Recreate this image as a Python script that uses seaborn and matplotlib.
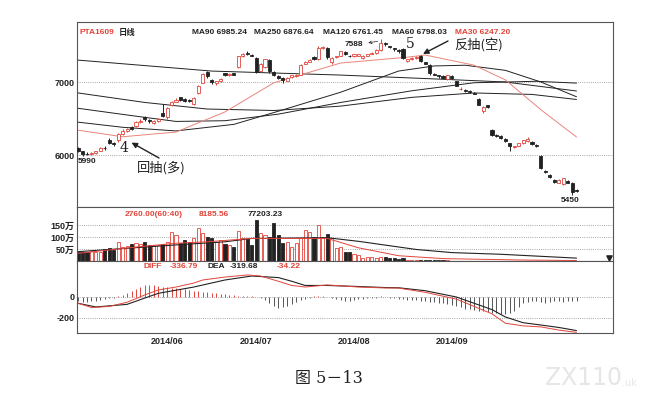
import numpy as np
import matplotlib
matplotlib.use("Agg")
import matplotlib.pyplot as plt
import seaborn as sns

# daily candles, PTA1609
opens = [6090, 6050, 6020, 6010, 6030, 6060, 6100, 6210, 6160, 6200,
         6290, 6330, 6380, 6400, 6450, 6520, 6480, 6440, 6460, 6580,
         6520, 6680, 6730, 6790, 6770, 6760, 6700, 6850, 6990, 7140,
         7030, 6980, 7020, 7120, 7090, 7120, 7200, 7350, 7400, 7370,
         7330, 7150, 7200, 7300, 7140, 7080, 7060, 7020, 7070, 7080,
         7100, 7250, 7280, 7340, 7310, 7460, 7470, 7270, 7340, 7360,
         7410, 7360, 7350, 7360, 7330, 7360, 7390, 7400, 7440, 7530,
         7490, 7460, 7440, 7450, 7290, 7310, 7330, 7360, 7270, 7230,
         7110, 7090, 7080, 7040, 7080, 7010, 6900, 6890, 6880, 6850,
         6770, 6600, 6680, 6340, 6280, 6260, 6220, 6160, 6110, 6130,
         6160, 6190, 6180, 6140, 5990, 5780, 5730, 5660, 5620, 5600,
         5650, 5620, 5520]
closes = [6060, 6020, 6010, 6030, 6050, 6100, 6090, 6170, 6150, 6290,
          6330, 6350, 6360, 6450, 6470, 6490, 6460, 6470, 6500, 6540,
          6650, 6720, 6760, 6760, 6740, 6740, 6780, 6950, 7110, 7080,
          7000, 7010, 7040, 7090, 7110, 7100, 7350, 7380, 7380, 7360,
          7140, 7250, 7310, 7150, 7100, 7060, 7030, 7060, 7090, 7100,
          7230, 7280, 7300, 7310, 7470, 7480, 7340, 7330, 7350, 7420,
          7380, 7350, 7380, 7380, 7360, 7380, 7400, 7440, 7540, 7520,
          7480, 7450, 7430, 7330, 7310, 7330, 7340, 7290, 7250, 7120,
          7100, 7080, 7060, 7090, 7050, 6950, 6910, 6880, 6860, 6840,
          6690, 6660, 6660, 6270, 6260, 6230, 6190, 6130, 6120, 6160,
          6200, 6220, 6150, 6120, 5820, 5770, 5700, 5630, 5660, 5680,
          5620, 5490, 5510]
highs = [6110, 6060, 6040, 6040, 6060, 6110, 6120, 6230, 6180, 6300,
         6350, 6370, 6400, 6460, 6490, 6530, 6500, 6480, 6510, 6700,
         6660, 6740, 6780, 6800, 6780, 6770, 6790, 6960, 7130, 7150,
         7040, 7020, 7050, 7130, 7120, 7130, 7360, 7400, 7420, 7380,
         7340, 7260, 7320, 7310, 7150, 7090, 7070, 7070, 7100, 7110,
         7240, 7290, 7310, 7350, 7500, 7500, 7480, 7340, 7360, 7430,
         7420, 7370, 7390, 7390, 7370, 7390, 7410, 7450, 7588, 7550,
         7500, 7470, 7450, 7460, 7320, 7340, 7350, 7370, 7280, 7240,
         7120, 7100, 7090, 7100, 7090, 7020, 6930, 6900, 6890, 6860,
         6780, 6670, 6690, 6350, 6290, 6270, 6230, 6170, 6130, 6170,
         6210, 6240, 6190, 6150, 6000, 5790, 5740, 5670, 5670, 5690,
         5660, 5630, 5530]
lows = [6040, 5990, 6000, 6000, 6020, 6050, 6070, 6150, 6120, 6180,
        6270, 6320, 6340, 6390, 6440, 6470, 6440, 6430, 6450, 6520,
        6500, 6670, 6720, 6740, 6720, 6720, 6690, 6830, 6980, 7060,
        6970, 6960, 7000, 7080, 7080, 7090, 7190, 7340, 7370, 7350,
        7120, 7140, 7190, 7130, 7080, 7040, 6980, 7010, 7060, 7070,
        7090, 7240, 7270, 7300, 7300, 7450, 7320, 7250, 7330, 7350,
        7370, 7340, 7340, 7350, 7320, 7350, 7380, 7390, 7430, 7500,
        7470, 7430, 7400, 7310, 7270, 7300, 7320, 7280, 7240, 7100,
        7090, 7060, 7050, 7030, 7040, 6940, 6890, 6870, 6850, 6830,
        6680, 6580, 6650, 6260, 6250, 6220, 6180, 6050, 6100, 6120,
        6150, 6180, 6140, 6110, 5810, 5750, 5690, 5620, 5610, 5590,
        5610, 5450, 5490]

# volume in 万
volumes = [39, 39, 39, 40, 39, 39, 50, 55, 45, 80,
           60, 62, 70, 74, 72, 80, 67, 67, 65, 70,
           80, 122, 108, 74, 88, 80, 94, 136, 115, 101,
           94, 80, 88, 70, 67, 60, 125, 94, 90, 67,
           170, 115, 108, 101, 157, 108, 74, 80, 60, 74,
           94, 129, 122, 101, 150, 101, 111, 94, 55, 60,
           39, 39, 30, 25, 14, 18, 18, 14, 18, 15,
           11, 11, 8, 14, 6, 5, 5, 5, 5, 4,
           4, 4, 3, 3, 2, 2, 2, 2, 2, 2,
           2, 2, 2, 1, 1, 1, 1, 1, 1, 1,
           1, 1, 1, 1, 1, 1, 1, 1, 1, 1,
           1, 1, 1]

macd_bars = [-40, -50, -45, -40, -35, -30, -20, -10, -5, 5,
             20, 40, 60, 80, 100, 110, 115, 110, 105, 100,
             95, 90, 85, 80, 75, 70, 60, 55, 50, 45,
             40, 35, 30, 25, 20, 15, 10, 8, 5, 5,
             3, -5, -30, -60, -90, -105, -100, -90, -70, -50,
             -30, -15, -5, 5, 8, 5, 3, -10, -20, -30,
             -40, -35, -30, -20, -15, -10, -5, -5, 5, 3,
             -5, -10, -15, -20, -25, -30, -30, -35, -40, -45,
             -50, -55, -60, -70, -80, -90, -100, -110, -115, -120,
             -130, -135, -140, -150, -155, -160, -160, -150, -130, -100,
             -60, -45, -40, -35, -50, -55, -50, -40, -35, -45,
             -40, -35, -34]

# moving averages (sampled along the lines)
ma30_idx = [0, 10, 22, 33, 44, 59, 74, 78, 89, 96, 104, 112]
ma30_val = [6340, 6250, 6315, 6590, 6990, 7260, 7340, 7370, 7230, 7030, 6620, 6247]
ma60_idx = [0, 10, 22, 35, 45, 59, 72, 80, 87, 96, 104, 112]
ma60_val = [6450, 6380, 6330, 6420, 6600, 6860, 7150, 7220, 7230, 7160, 7000, 6798]
ma90_idx = [0, 12, 22, 33, 45, 59, 75, 89, 103, 112]
ma90_val = [6640, 6540, 6460, 6470, 6560, 6720, 6880, 6990, 7010, 6985]
ma120_idx = [0, 15, 29, 44, 59, 75, 89, 102, 112]
ma120_val = [6850, 6720, 6630, 6610, 6670, 6790, 6850, 6830, 6761]
ma250_idx = [0, 30, 59, 81, 96, 112]
ma250_val = [7300, 7150, 7095, 7040, 7000, 6877]

vol_ma1_idx = [0, 14, 22, 29, 39, 50, 56, 63, 72, 82, 100, 112]
vol_ma1_val = [32, 60, 74, 80, 94, 94, 94, 55, 22, 10, 4, 2]
vol_ma2_idx = [0, 22, 33, 39, 56, 63, 76, 84, 95, 112]
vol_ma2_val = [39, 67, 80, 94, 97, 82, 48, 35, 28, 12]

diff_idx = [0, 3, 7, 11, 15, 18, 22, 26, 28, 33, 38, 41, 45, 48, 51, 56, 63, 69, 72, 78, 85, 89, 93, 96, 100, 104, 108, 112]
diff_val = [-60, -100, -90, -50, 20, 67, 95, 133, 162, 190, 210, 200, 150, 110, 95, 115, 95, 86, 85, 45, -20, -90, -160, -250, -275, -285, -315, -337]
dea_idx = [0, 4, 11, 18, 26, 33, 39, 45, 48, 51, 56, 63, 69, 72, 78, 85, 89, 93, 96, 100, 104, 108, 112]
dea_val = [-60, -95, -70, 35, 95, 162, 200, 185, 150, 110, 110, 100, 90, 88, 60, 0, -60, -120, -190, -245, -267, -290, -320]

date_pos = [20, 40, 62, 84]
date_labels = ["2014/06", "2014/07", "2014/08", "2014/09"]

RED = "#e2443a"
PINK = "#e9857b"
BLK = "#222222"
GRID = "#8a8a8a"

sns.set_theme(style="white")
plt.rcParams["font.family"] = ["Liberation Sans", "Noto Sans CJK SC", "DejaVu Sans"]

W_PX, H_PX = 663, 400


def fx(px):
    return px / W_PX


def fy(py):
    return 1 - py / H_PX


fig = plt.figure(figsize=(6.63, 4.0), dpi=100)
left = fx(77)
width = (613 - 77) / W_PX
ax = fig.add_axes([left, fy(207), width, 185 / H_PX])
axv = fig.add_axes([left, fy(261), width, 54 / H_PX], sharex=ax)
axm = fig.add_axes([left, fy(333), width, 72 / H_PX], sharex=ax)

o = np.array(opens)
c = np.array(closes)
idx = np.arange(len(c))
up = c >= o
edge = np.where(up, RED, BLK)
face = np.where(up, "white", BLK)

# candles
ax.vlines(idx, lows, highs, colors=edge, linewidth=0.7, zorder=2)
body = np.maximum(np.abs(c - o), 8)
ax.bar(idx, body, bottom=np.minimum(o, c), width=0.7, color=face,
       edgecolor=edge, linewidth=0.6, zorder=3)

for xs, ys, col in [(ma250_idx, ma250_val, BLK), (ma120_idx, ma120_val, BLK),
                    (ma90_idx, ma90_val, BLK), (ma60_idx, ma60_val, BLK),
                    (ma30_idx, ma30_val, PINK)]:
    sns.lineplot(x=xs, y=ys, ax=ax, color=col, linewidth=0.7, zorder=1)

for lvl in [7000, 6000]:
    ax.axhline(lvl, color=GRID, linestyle=(0, (1, 1.6)), linewidth=0.6, zorder=0)
ax.set_xlim(-0.25, 120.2)
ax.set_ylim(5288, 7822)
ax.set_yticks([7000, 6000])
ax.set_yticklabels(["7000", "6000"])

# volume
vcol = np.where(up, RED, BLK)
vface = np.where(up, "white", BLK)
axv.bar(idx, volumes, width=0.7, color=vface, edgecolor=vcol, linewidth=0.6)
sns.lineplot(x=vol_ma2_idx, y=vol_ma2_val, ax=axv, color=BLK, linewidth=0.8)
sns.lineplot(x=vol_ma1_idx, y=vol_ma1_val, ax=axv, color=RED, linewidth=0.7)
for lvl in [50, 100, 150]:
    axv.axhline(lvl, color=GRID, linestyle=(0, (1, 1.6)), linewidth=0.6, zorder=0)
axv.set_ylim(0, 225)
axv.set_yticks([150, 100, 50])
axv.set_yticklabels(["150万", "100万", "50万"])
axv.scatter([0.992], [0.06], marker="v", s=14, color=BLK,
            transform=axv.transAxes, clip_on=False, zorder=5)

# MACD
mb = np.array(macd_bars)
axm.vlines(idx, 0, mb, colors=np.where(mb >= 0, RED, "#555555"), linewidth=0.7)
sns.lineplot(x=dea_idx, y=dea_val, ax=axm, color=BLK, linewidth=0.8)
sns.lineplot(x=diff_idx, y=diff_val, ax=axm, color=RED, linewidth=0.7)
for lvl in [0, -200]:
    axm.axhline(lvl, color=GRID, linestyle=(0, (1, 1.6)), linewidth=0.6, zorder=0)
axm.set_ylim(-343, 343)
axm.set_yticks([0, -200])
axm.set_yticklabels(["0", "-200"])
axm.set_xticks(date_pos)
axm.set_xticklabels(date_labels)

for a in (ax, axv, axm):
    a.set_xlabel("")
    a.set_ylabel("")
    a.grid(False)
    for s in a.spines.values():
        s.set_color("#555555")
        s.set_linewidth(0.8)
    a.tick_params(axis="y", length=0, pad=1.5, labelsize=6.5, labelcolor=BLK)
    a.tick_params(axis="x", length=0, labelbottom=False)
    for t in a.get_yticklabels():
        t.set_fontweight("bold")
axm.tick_params(axis="x", labelbottom=True, labelsize=6.5, pad=3)
for t in axm.get_xticklabels():
    t.set_fontweight("bold")

# header texts
tk = dict(fontsize=6, fontweight="bold", va="center", ha="left")
fig.text(fx(79), fy(33), "PTA1609", color=RED, **tk)
fig.text(fx(119), fy(33), "日线", color=BLK, **tk)
fig.text(fx(192), fy(33), "MA90 6985.24", color=BLK, **tk)
fig.text(fx(254), fy(33), "MA250 6876.64", color=BLK, **tk)
fig.text(fx(323), fy(33), "MA120 6761.45", color=BLK, **tk)
fig.text(fx(392), fy(33), "MA60 6798.03", color=BLK, **tk)
fig.text(fx(455), fy(33), "MA30 6247.20", color=RED, **tk)

fig.text(fx(125), fy(214), "2760.00(60:40)", color=RED, **tk)
fig.text(fx(199), fy(214), "8185.56", color=RED, **tk)
fig.text(fx(248), fy(214), "77203.23", color=BLK, **tk)

fig.text(fx(143), fy(267), "DIFF", color=RED, **tk)
fig.text(fx(170), fy(267), "-336.79", color=RED, **tk)
fig.text(fx(207), fy(267), "DEA", color=BLK, **tk)
fig.text(fx(230), fy(267), "-319.68", color=BLK, **tk)
fig.text(fx(277), fy(267), "-34.22", color=RED, **tk)

# price marks
fig.text(fx(78), fy(161), "5990", color=BLK, **tk)
fig.text(fx(561), fy(200), "5450", color=BLK, **tk)
ax.annotate("7588", xy=(67.6, 7560), xytext=(fx(345), fy(45)),
            textcoords="figure fraction", fontsize=6, fontweight="bold",
            va="center", ha="left", color=BLK,
            arrowprops=dict(arrowstyle="<-", color=BLK, lw=0.6,
                            linestyle=(0, (1, 1)), shrinkA=1, shrinkB=1,
                            mutation_scale=5))

# turning-point annotations
ann = dict(fontsize=9.5, color=BLK, va="center", ha="left",
           family=["Noto Sans CJK SC", "DejaVu Sans"])
fig.text(fx(120), fy(148), "4", fontsize=10, color=BLK, va="center",
         ha="left", family="DejaVu Serif")
ax.annotate("", xy=(12, 6170), xytext=(fx(159), fy(158)),
            textcoords="figure fraction",
            arrowprops=dict(arrowstyle="-|>", color=BLK, lw=1.0,
                            mutation_scale=8, shrinkA=0, shrinkB=0))
fig.text(fx(137), fy(168), "回抽(多)", **ann)

fig.text(fx(406), fy(44), "5", fontsize=10, color=BLK, va="center",
         ha="left", family="DejaVu Serif")
ax.annotate("", xy=(77.5, 7385), xytext=(fx(448), fy(41)),
            textcoords="figure fraction",
            arrowprops=dict(arrowstyle="-|>", color=BLK, lw=1.0,
                            mutation_scale=8, shrinkA=0, shrinkB=0))
fig.text(fx(454), fy(46), "反抽(空)", **ann)

# caption and watermark
fig.text(fx(329), fy(378), "图 5－13", fontsize=11.5, color=BLK, ha="center",
         va="center", family=["DejaVu Serif", "Noto Sans CJK SC"])
fig.text(fx(545), fy(378), "ZX110", fontsize=17, color="#e6e6e6", ha="left",
         va="center", family=["DejaVu Sans"])
fig.text(fx(622), fy(383), ".uk", fontsize=7, color="#e6e6e6", ha="left",
         va="center", family=["DejaVu Sans"])

fig.savefig("out.png", dpi=100, facecolor="white")
